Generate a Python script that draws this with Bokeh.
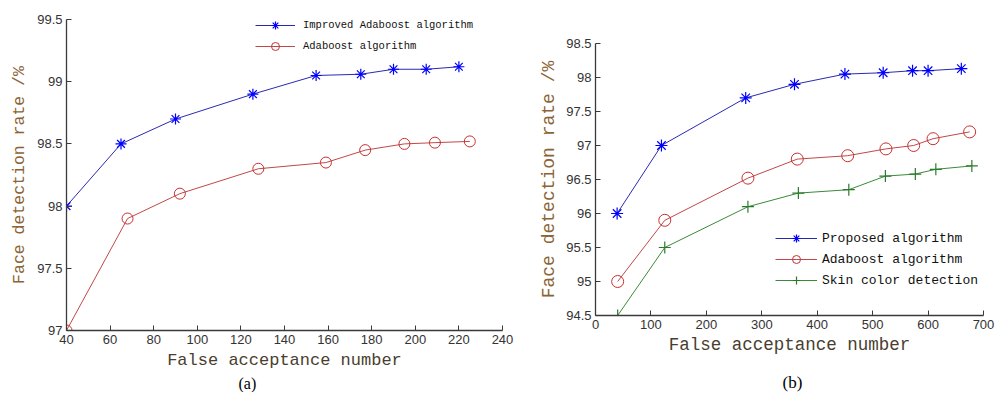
from bokeh.plotting import figure
from bokeh.layouts import row
from bokeh.models import FixedTicker, Legend, LegendItem, Range1d, Title
from bokeh.embed import file_html
from bokeh.resources import INLINE

# ---------------- data: panel (a) ----------------
a_improved_x = [40, 65, 90, 125.5, 154.5, 175, 190, 205, 220]
a_improved_y = [98.0, 98.5, 98.7, 98.9, 99.05, 99.06, 99.1, 99.1, 99.12]
a_ada_x = [40, 68, 92, 128, 159, 177, 195, 209, 225]
a_ada_y = [97.0, 97.9, 98.1, 98.3, 98.35, 98.45, 98.5, 98.51, 98.52]
a_xticks = [40, 60, 80, 100, 120, 140, 160, 180, 200, 220, 240]
a_yticks = [97, 97.5, 98, 98.5, 99, 99.5]
a_ylabels = ["97", "97.5", "98", "98.5", "99", "99.5"]

# ---------------- data: panel (b) ----------------
b_prop_x = [39, 119, 271, 359, 450, 519, 572, 600, 660]
b_prop_y = [96.0, 97.0, 97.7, 97.9, 98.05, 98.07, 98.1, 98.1, 98.13]
b_ada_x = [40, 125, 275, 364, 455, 524, 574, 609, 675]
b_ada_y = [95.0, 95.9, 96.52, 96.8, 96.85, 96.95, 97.0, 97.1, 97.2]
b_skin_x = [40, 125, 275, 366, 457, 523, 577, 614, 679]
b_skin_y = [94.5, 95.5, 96.1, 96.3, 96.35, 96.55, 96.58, 96.65, 96.7]
b_xticks = [0, 100, 200, 300, 400, 500, 600, 700]
b_yticks = [94.5, 95, 95.5, 96, 96.5, 97, 97.5, 98, 98.5]
b_ylabels = ["94.5", "95", "95.5", "96", "96.5", "97", "97.5", "98", "98.5"]

BLUE_LINE = "#2a2ab0"
BLUE_MK = "#0000ff"
RED_LINE = "#c04848"
RED_MK = "#c83030"
GREEN_LINE = "#3a8a3a"
GREEN_MK = "#2a7a2a"
YLAB = "#8a6434"
XLAB = "#4a3e2e"


def style_axes(p, xticks, yticks, ylabels, xlab_size, ylab_size, xstand, ystand):
    p.title.visible = False
    if "frame_align" in p.properties():
        p.frame_align = False
    p.xaxis.ticker = FixedTicker(ticks=xticks)
    p.yaxis.ticker = FixedTicker(ticks=yticks)
    p.yaxis.major_label_overrides = {t: l for t, l in zip(yticks, ylabels)}
    for ax in (p.xaxis[0], p.yaxis[0]):
        ax.axis_line_color = "#3a3a3a"
        ax.axis_line_width = 1.3
        ax.major_tick_line_color = "#3a3a3a"
        ax.major_tick_in = 5
        ax.major_tick_out = 0
        ax.minor_tick_line_color = None
        ax.major_label_text_font = "Liberation Sans"
        ax.major_label_text_font_size = "13px"
        ax.major_label_text_color = "#333333"
        ax.major_label_standoff = 4
        ax.axis_label_text_font = "Liberation Mono"
        ax.axis_label_text_font_style = "normal"
    p.xaxis.axis_label = "False acceptance number"
    p.xaxis.axis_label_text_font_size = xlab_size
    p.xaxis.axis_label_text_color = XLAB
    p.xaxis.axis_label_standoff = xstand
    p.yaxis.axis_label = "Face detection rate /%"
    p.yaxis.axis_label_text_font_size = ylab_size
    p.yaxis.axis_label_text_color = YLAB
    p.yaxis.axis_label_standoff = ystand
    p.xgrid.visible = False
    p.ygrid.visible = False
    p.outline_line_color = None


# ---------------- panel (a) ----------------
pa = figure(frame_width=436, frame_height=311, min_border_left=66, min_border_right=18,
            min_border_top=19, min_border_bottom=62, output_backend="svg",
            toolbar_location=None, x_range=Range1d(40, 240), y_range=Range1d(97, 99.5))
style_axes(pa, a_xticks, a_yticks, a_ylabels, "17px", "16.5px", 4, 5)

l1 = pa.line(a_improved_x, a_improved_y, line_color=BLUE_LINE, line_width=1)
s1 = pa.scatter(a_improved_x, a_improved_y, marker="asterisk", size=11,
                line_color=BLUE_MK, line_width=1.2)
l2 = pa.line(a_ada_x, a_ada_y, line_color=RED_LINE, line_width=1)
s2 = pa.scatter(a_ada_x, a_ada_y, marker="circle", size=11, fill_color=None,
                line_color=RED_MK, line_width=1)

leg_a = Legend(items=[LegendItem(label="Improved Adaboost algorithm", renderers=[l1, s1]),
                      LegendItem(label="Adaboost algorithm", renderers=[l2, s2])],
               location=(189, 274), padding=0, margin=0, spacing=1,
               label_height=20, glyph_height=20, glyph_width=40, label_standoff=8,
               label_text_font="Liberation Mono", label_text_font_size="10.5px",
               label_text_color="#111111", border_line_color=None,
               background_fill_alpha=0)
pa.add_layout(leg_a)
pa.add_layout(Title(text="(a)", align="left", offset=172, standoff=0,
                    text_font="Liberation Serif", text_font_size="16px",
                    text_font_style="normal", text_color="#000000"), "below")

# ---------------- panel (b) ----------------
pb = figure(frame_width=388, frame_height=272, min_border_left=75, min_border_right=21,
            min_border_top=43, min_border_bottom=79, output_backend="svg",
            toolbar_location=None, x_range=Range1d(0, 700), y_range=Range1d(94.5, 98.5))
style_axes(pb, b_xticks, b_yticks, b_ylabels, "17.5px", "18px", 3, 4)

m1 = pb.line(b_prop_x, b_prop_y, line_color=BLUE_LINE, line_width=1)
t1 = pb.scatter(b_prop_x, b_prop_y, marker="asterisk", size=12,
                line_color=BLUE_MK, line_width=1.2)
m2 = pb.line(b_ada_x, b_ada_y, line_color=RED_LINE, line_width=1)
t2 = pb.scatter(b_ada_x, b_ada_y, marker="circle", size=12, fill_color=None,
                line_color=RED_MK, line_width=1)
m3 = pb.line(b_skin_x, b_skin_y, line_color=GREEN_LINE, line_width=1)
t3 = pb.scatter(b_skin_x, b_skin_y, marker="cross", size=12,
                line_color=GREEN_MK, line_width=1.2)

leg_b = Legend(items=[LegendItem(label="Proposed algorithm", renderers=[m1, t1]),
                      LegendItem(label="Adaboost algorithm", renderers=[m2, t2]),
                      LegendItem(label="Skin color detection", renderers=[m3, t3])],
               location=(180, 25), padding=0, margin=0, spacing=1,
               label_height=20, glyph_height=20, glyph_width=42, label_standoff=5,
               label_text_font="Liberation Mono", label_text_font_size="13px",
               label_text_color="#111111", border_line_color=None,
               background_fill_alpha=0)
pb.add_layout(leg_b)
pb.add_layout(Title(text="(b)", align="left", offset=187, standoff=27,
                    text_font="Liberation Serif", text_font_size="17px",
                    text_font_style="normal", text_color="#000000"), "below")

layout = row(pa, pb)
open("out.html", "w").write(file_html(layout, INLINE))
